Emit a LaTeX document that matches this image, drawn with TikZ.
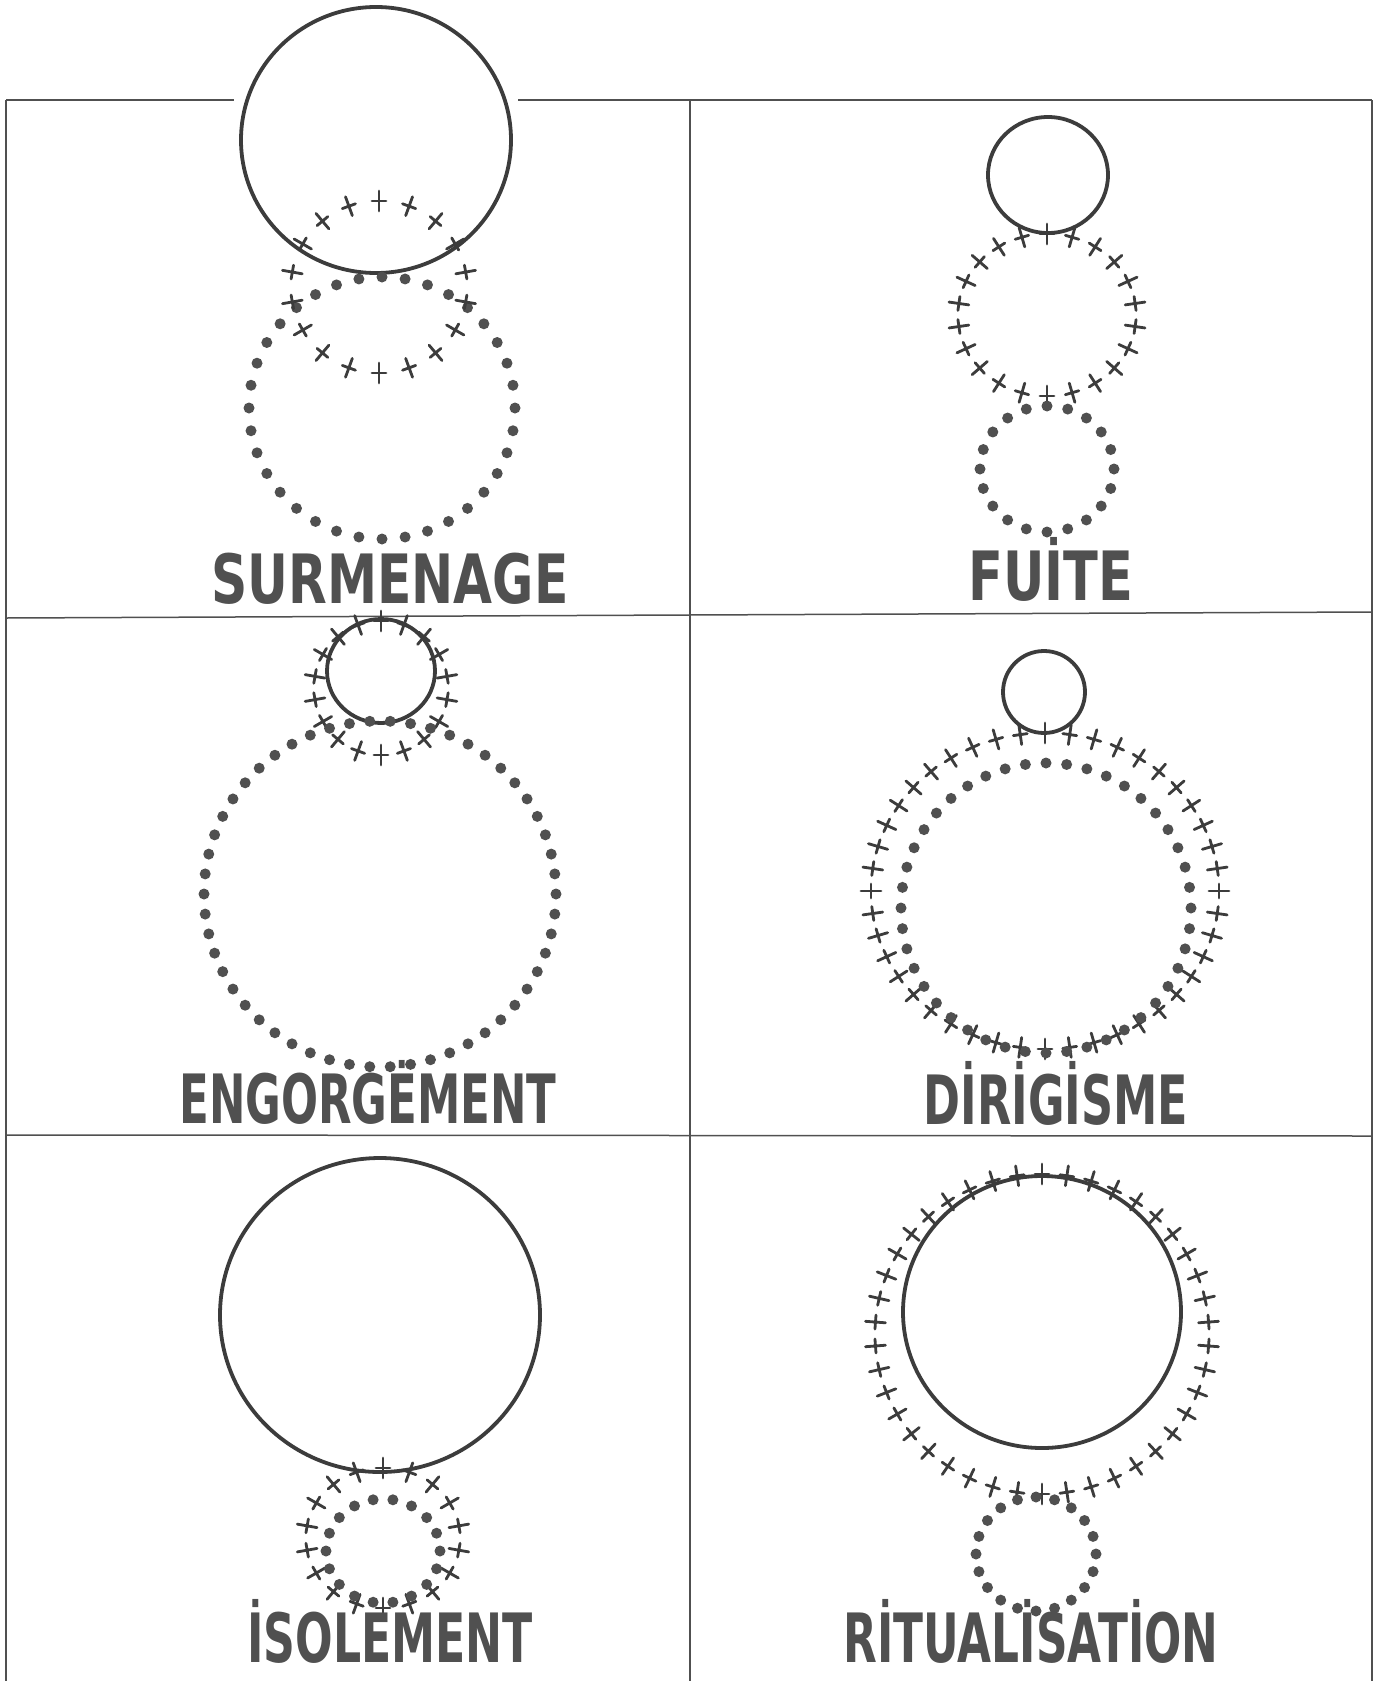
\documentclass[tikz,border=0pt]{standalone}
\usepackage{fontspec}
\newfontfamily\handfont{DejaVu Sans}
\usepackage{tikz}
\usetikzlibrary{calc}
\definecolor{pencil}{HTML}{3C3C3C}
\definecolor{lead}{HTML}{505050}
\tikzset{
  frame/.style     = {draw=lead, line width=1.5pt},
  ring/.style      = {draw=pencil, line width=3.8pt},
  dotmark/.style   = {circle, fill=lead, inner sep=0pt, minimum size=11pt},
  crossline/.style = {draw=pencil, line width=2.8pt, line cap=round},
  crossmark/.pic   = {\draw[crossline] (-10,0) -- (10,0) (0,-7) -- (0,7);},
  wordmark/.style  = {anchor=base, text=lead, inner sep=0pt, text depth=0pt,
                      font=\handfont\fontsize{68}{80}\selectfont\bfseries},
}
% #1 centre, #2 x radius, #3 y radius, #4 how many
\newcommand{\dotring}[4]{\foreach \k in {1,...,#4}
  \node[dotmark] at ($(#1)+({360/#4*\k}:#2 and #3)$) {};}
% #5 angle of the first cross
\newcommand{\crossring}[5]{\foreach \k in {1,...,#4}
  \pic[rotate={-#5-360/#4*\k}] at ($(#1)+({#5+360/#4*\k}:#2 and #3)$) {crossmark};}

\begin{document}
\begin{tikzpicture}[x=1pt, y=-1pt]
\useasboundingbox (0,0) rectangle (1392,1681);
% ---- grid ----
\draw[frame] (6,100) -- (234,100);
\draw[frame] (518,100) -- (1372,100);
\draw[frame] (6,100) -- (6,1681);
\draw[frame] (690,100) -- (690,1681);
\draw[frame] (1372,100) -- (1372,1681);
\draw[frame] (6,618) -- (1372,612);
\draw[frame] (6,1135) -- (1372,1136);

% ---- surmenage ----
\coordinate (sur-solid) at (376,140);
\coordinate (sur-cross) at (379,287);
\coordinate (sur-dots) at (382,408);
\draw[ring] (sur-solid) ellipse [x radius=135, y radius=133];
\dotring{sur-dots}{133}{131}{36}
\crossring{sur-cross}{88}{86}{18}{270}
\node[wordmark, xscale=0.74] (sur-label) at (390,603) {SURMENAGE};

% ---- fuite ----
\coordinate (fui-solid) at (1048,175);
\coordinate (fui-cross) at (1047,315);
\coordinate (fui-dots) at (1047,469);
\draw[ring] (fui-solid) ellipse [x radius=60, y radius=58];
\crossring{fui-cross}{89}{81}{22}{270}
\dotring{fui-dots}{67}{63}{20}
\node[wordmark, xscale=0.75] (fui-label) at (1051,600) {FU\.ITE};

% ---- engorgement ----
\coordinate (eng-solid) at (381,671);
\coordinate (eng-cross) at (381,688);
\coordinate (eng-dots) at (380,894);
\draw[ring] (eng-solid) ellipse [x radius=54, y radius=52];
\crossring{eng-cross}{67}{67}{18}{270}
\dotring{eng-dots}{176}{173}{54}
\node[wordmark, xscale=0.64] (eng-label) at (368,1123) {ENGORG\.EMENT};

% ---- dirigisme ----
\coordinate (dir-solid) at (1044,692);
\coordinate (dir-cross) at (1045,891);
\coordinate (dir-dots) at (1046,908);
\draw[ring] (dir-solid) circle [radius=41];
\crossring{dir-cross}{174}{158}{44}{270}
\dotring{dir-dots}{145}{145}{44}
\node[wordmark, xscale=0.655] (dir-label) at (1056,1124) {D\.IR\.IG\.ISME};

% ---- isolement ----
\coordinate (iso-solid) at (380,1315);
\coordinate (iso-cross) at (383,1538);
\coordinate (iso-dots) at (383,1551);
\draw[ring] (iso-solid) ellipse [x radius=160, y radius=157];
\crossring{iso-cross}{77}{70}{18}{270}
\dotring{iso-dots}{57}{52}{18}
\node[wordmark, xscale=0.65] (iso-label) at (390,1662) {\.ISOLEMENT};

% ---- ritualisation ----
\coordinate (rit-solid) at (1042,1312);
\coordinate (rit-cross) at (1042,1334);
\coordinate (rit-dots) at (1036,1554);
\draw[ring] (rit-solid) ellipse [x radius=139, y radius=136];
\crossring{rit-cross}{167}{160}{42}{270}
\dotring{rit-dots}{60}{57}{20}
\node[wordmark, xscale=0.645] (rit-label) at (1031,1662) {R\.ITUAL\.ISAT\.ION};
\end{tikzpicture}
\end{document}
